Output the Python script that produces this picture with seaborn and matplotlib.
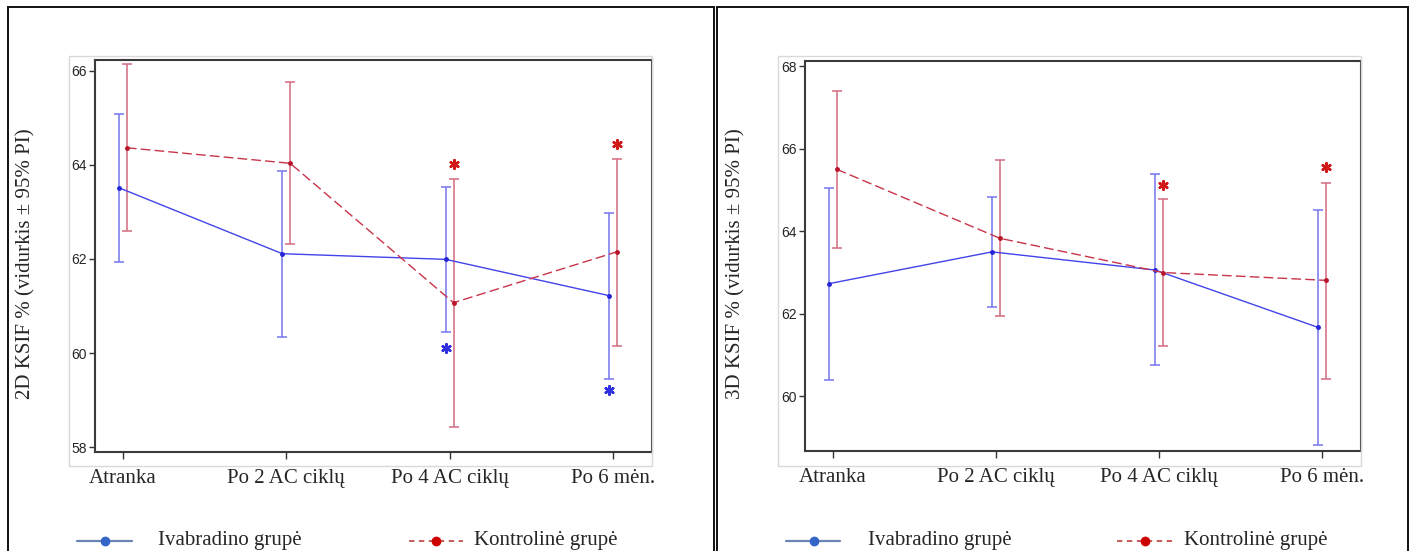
import numpy as np
import pandas as pd
import seaborn as sns
import matplotlib
matplotlib.use("Agg")
import matplotlib.pyplot as plt
from matplotlib.lines import Line2D
from matplotlib.patches import Rectangle

# ---------------- data ----------------
categories = ["Atranka", "Po 2 AC ciklų", "Po 4 AC ciklų", "Po 6 mėn."]
groups = ["Ivabradino grupė", "Kontrolinė grupė"]

# 2D KSIF
ivab_2d_mean = [63.51, 62.11, 61.99, 61.22]
ivab_2d_lo = [61.94, 60.34, 60.45, 59.46]
ivab_2d_hi = [65.08, 63.87, 63.52, 62.97]
kont_2d_mean = [64.36, 64.03, 61.07, 62.15]
kont_2d_lo = [62.59, 62.31, 58.44, 60.16]
kont_2d_hi = [66.13, 65.75, 63.70, 64.12]
# significance asterisks (category index, y)
ivab_2d_sig_idx = [2, 3]
ivab_2d_sig_y = [60.10, 59.22]
kont_2d_sig_idx = [2, 3]
kont_2d_sig_y = [64.02, 64.45]

# 3D KSIF
ivab_3d_mean = [62.73, 63.50, 63.06, 61.67]
ivab_3d_lo = [60.39, 62.16, 60.75, 58.81]
ivab_3d_hi = [65.05, 64.83, 65.38, 64.52]
kont_3d_mean = [65.50, 63.83, 63.00, 62.81]
kont_3d_lo = [63.59, 61.94, 61.23, 60.43]
kont_3d_hi = [67.40, 65.73, 64.78, 65.18]
ivab_3d_sig_idx = []
ivab_3d_sig_y = []
kont_3d_sig_idx = [2, 3]
kont_3d_sig_y = [65.13, 65.56]

ylabels = ["2D KSIF % (vidurkis ± 95% PI)", "3D KSIF % (vidurkis ± 95% PI)"]
yticks_2d = [58, 60, 62, 64, 66]
yticks_3d = [60, 62, 64, 66, 68]

# ---------------- style ----------------
sns.set_style("white")
plt.rcParams["font.family"] = ["Liberation Serif", "DejaVu Serif"]

BLUE_LINE = "#4343EA"
BLUE_ERR = "#7474EE"
BLUE_PT = "#2424D8"
RED_LINE = "#C8344A"
RED_ERR = "#D26A7C"
RED_PT = "#B8142A"
OFF = 0.024

fig = plt.figure(figsize=(14.1, 5.51), dpi=100)
W, H = 1410.0, 551.0


def fx(px):
    return px / W


def fy(py):
    return 1 - py / H


# panel frames
for x0, x1 in [(8, 714), (717, 1408)]:
    fig.add_artist(Rectangle((fx(x0), fy(560)), fx(x1) - fx(x0), fy(7) - fy(560),
                             transform=fig.transFigure, fill=False,
                             edgecolor="#111111", lw=1.4, clip_on=False))
# light chart-area boxes
for x0, x1 in [(69, 652), (778, 1361)]:
    fig.add_artist(Rectangle((fx(x0), fy(466)), fx(x1) - fx(x0), fy(56) - fy(466),
                             transform=fig.transFigure, fill=False,
                             edgecolor="#d9d9d9", lw=1.0))

panels = [
    dict(rect=[fx(95), fy(451.5), fx(652) - fx(95), fy(59.7) - fy(451.5)],
         ylim=(57.91, 66.23), yticks=yticks_2d,
         data=(ivab_2d_mean, ivab_2d_lo, ivab_2d_hi, kont_2d_mean, kont_2d_lo, kont_2d_hi),
         sig=(ivab_2d_sig_idx, ivab_2d_sig_y, kont_2d_sig_idx, kont_2d_sig_y),
         ylab_x=26, leg=(77, 105, 132, 158, 409, 436, 463, 474)),
    dict(rect=[fx(805), fy(450.8), fx(1361) - fx(805), fy(60.8) - fy(450.8)],
         ylim=(58.68, 68.13), yticks=yticks_3d,
         data=(ivab_3d_mean, ivab_3d_lo, ivab_3d_hi, kont_3d_mean, kont_3d_lo, kont_3d_hi),
         sig=(ivab_3d_sig_idx, ivab_3d_sig_y, kont_3d_sig_idx, kont_3d_sig_y),
         ylab_x=736, leg=(786, 814, 840, 868, 1117, 1145, 1173, 1184)),
]

for k, p in enumerate(panels):
    ax = fig.add_axes(p["rect"])
    im, il, ih, km, kl, kh = p["data"]
    xi = np.arange(len(categories))
    df = pd.DataFrame({
        "x": np.concatenate([xi - OFF, xi + OFF]),
        "value": im + km,
        "group": [groups[0]] * 4 + [groups[1]] * 4,
    })
    # error bars
    ax.errorbar(xi - OFF, im, yerr=[np.array(im) - np.array(il), np.array(ih) - np.array(im)],
                fmt="none", ecolor=BLUE_ERR, elinewidth=1.1, capsize=3.6, capthick=1.1, zorder=2)
    ax.errorbar(xi + OFF, km, yerr=[np.array(km) - np.array(kl), np.array(kh) - np.array(km)],
                fmt="none", ecolor=RED_ERR, elinewidth=1.1, capsize=3.6, capthick=1.1, zorder=2)
    sns.lineplot(data=df, x="x", y="value", hue="group", style="group",
                 palette={groups[0]: BLUE_LINE, groups[1]: RED_LINE},
                 dashes={groups[0]: "", groups[1]: (7, 3)},
                 markers={groups[0]: "o", groups[1]: "o"},
                 markersize=3.5, markeredgewidth=0, linewidth=1.0,
                 legend=False, ax=ax, zorder=3)
    for ln, c in zip(ax.lines[-2:], [BLUE_PT, RED_PT]):
        ln.set_markerfacecolor(c)
    # significance asterisks
    bi, by, ri, ry = p["sig"]
    if bi:
        ax.scatter(np.array(bi) - OFF, by, marker=(6, 2, 0), s=38, color="#3030E0",
                   linewidths=1.8, zorder=4)
    if ri:
        ax.scatter(np.array(ri) + OFF, ry, marker=(6, 2, 0), s=38, color="#D01818",
                   linewidths=1.8, zorder=4)

    ax.set_xlim(-0.171, 3.239)
    ax.set_ylim(*p["ylim"])
    ax.set_xticks(xi)
    ax.set_xticklabels(categories, fontsize=15, family=["Liberation Serif"])
    ax.set_yticks(p["yticks"])
    ax.set_yticklabels([str(v) for v in p["yticks"]], fontsize=10,
                       family=["Liberation Sans"])
    ax.set_xlabel("")
    ax.set_ylabel("")
    ax.tick_params(axis="x", direction="out", length=5, width=1.0, color="#333333",
                   pad=7.5, bottom=True)
    ax.tick_params(axis="y", direction="out", length=4, width=1.0, color="#333333",
                   pad=2, left=True)
    for s in ax.spines.values():
        s.set_visible(True)
        s.set_color("#3a3a3a")
        s.set_linewidth(1.5)
    ax.set_facecolor("white")

    fig.text(fx(p["ylab_x"]), fy(264), ylabels[k], rotation=90, fontsize=15,
             ha="center", va="center")

    # legend drawn manually
    bl0, bm, bl1, bt, rl0, rm, rl1, rt = p["leg"]
    ly = fy(541)
    fig.add_artist(Line2D([fx(bl0), fx(bm), fx(bl1)], [ly, ly, ly], transform=fig.transFigure,
                          color="#6A84B6", lw=1.6, marker="o", markevery=[1],
                          markersize=6, markerfacecolor="#3466C8", markeredgecolor="#3466C8"))
    fig.text(fx(bt), ly, groups[0], fontsize=15, ha="left", va="center")
    fig.add_artist(Line2D([fx(rl0), fx(rm), fx(rl1)], [ly, ly, ly], transform=fig.transFigure,
                          color="#C0504D", lw=1.3, ls=(0, (3, 2.5)), marker="o", markevery=[1],
                          markersize=6, markerfacecolor="#CC0000", markeredgecolor="#CC0000"))
    fig.text(fx(rt), ly, groups[1], fontsize=15, ha="left", va="center")

fig.savefig("out.png", dpi=100, facecolor="white")
